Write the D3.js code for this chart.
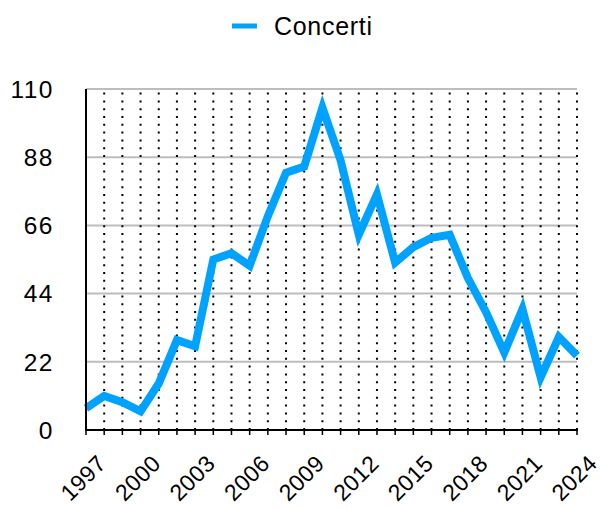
<!DOCTYPE html>
<html>
<head>
<meta charset="utf-8">
<script src="https://cdn.jsdelivr.net/npm/d3@7"></script>
<style>
  html, body { margin: 0; padding: 0; background: #fff; }
  svg { display: block; font-family: "Liberation Sans", Arial, Helvetica, sans-serif; }
</style>
</head>
<body>
<script>
// Number of concerts per year
const years = [1997, 1998, 1999, 2000, 2001, 2002, 2003, 2004, 2005, 2006, 2007, 2008, 2009, 2010,
               2011, 2012, 2013, 2014, 2015, 2016, 2017, 2018, 2019, 2020, 2021, 2022, 2023, 2024];
const concerti = [7, 11, 9, 6, 15, 29, 27, 55, 57, 53, 69, 83, 85, 104,
                  87, 63, 76, 54, 59, 62, 63, 49, 38, 25, 39, 17, 30, 24];
const yTicks = [0, 22, 44, 66, 88, 110];
const xTickLabels = [1997, 2000, 2003, 2006, 2009, 2012, 2015, 2018, 2021, 2024];
const seriesName = "Concerti";

const W = 604, H = 508;
const margin = { left: 86, right: 27, top: 89, bottom: 78 };
const color = "#00a2ff";

const svg = d3.select("body").append("svg").attr("width", W).attr("height", H);

const x = d3.scaleLinear()
  .domain([d3.min(years), d3.max(years)])
  .range([margin.left, W - margin.right]);
const y = d3.scaleLinear()
  .domain([0, 110])
  .range([H - margin.bottom, margin.top]);

// horizontal grid
svg.append("g")
  .selectAll("line")
  .data(yTicks.filter(d => d > 0))
  .join("line")
  .attr("x1", x.range()[0]).attr("x2", x.range()[1])
  .attr("y1", d => y(d)).attr("y2", d => y(d))
  .attr("stroke", "#bdbdbd").attr("stroke-width", 2);

// dotted vertical grid, one per year
svg.append("g")
  .selectAll("line")
  .data(years.slice(1))
  .join("line")
  .attr("x1", d => x(d)).attr("x2", d => x(d))
  .attr("y1", y(0)).attr("y2", y(110))
  .attr("stroke", "#000").attr("stroke-width", 2)
  .attr("stroke-dasharray", "2 5.8");

// y axis labels
svg.append("g")
  .selectAll("text")
  .data(yTicks)
  .join("text")
  .attr("x", 54)
  .attr("y", d => y(d))
  .attr("dy", "0.36em")
  .attr("text-anchor", "end")
  .attr("font-size", 24.5)
  .attr("letter-spacing", 1.5)
  .attr("fill", "#000")
  .text(d => d);

// x axis tick marks
svg.append("g")
  .selectAll("line")
  .data(years)
  .join("line")
  .attr("x1", d => x(d)).attr("x2", d => x(d))
  .attr("y1", y(0)).attr("y2", y(0) + 5)
  .attr("stroke", "#000").attr("stroke-width", 1.5);

// x axis labels, rotated
svg.append("g")
  .selectAll("text")
  .data(xTickLabels)
  .join("text")
  .attr("transform", d => `translate(${x(d) + 21.5},${y(0) + 35}) rotate(-45)`)
  .attr("text-anchor", "end")
  .attr("font-size", 23)
  .attr("letter-spacing", 0.4)
  .attr("fill", "#000")
  .text(d => d);

// series line
const line = d3.line()
  .x((d, i) => x(years[i]))
  .y(d => y(d));

svg.append("path")
  .datum(concerti)
  .attr("d", line)
  .attr("fill", "none")
  .attr("stroke", color)
  .attr("stroke-width", 8)
  .attr("stroke-linejoin", "miter")
  .attr("stroke-miterlimit", 10);

// axes lines
svg.append("line")
  .attr("x1", x.range()[0]).attr("x2", x.range()[0])
  .attr("y1", y(110)).attr("y2", y(0) + 1)
  .attr("stroke", "#000").attr("stroke-width", 2);
svg.append("line")
  .attr("x1", x.range()[0] - 1).attr("x2", x.range()[1] + 1)
  .attr("y1", y(0)).attr("y2", y(0))
  .attr("stroke", "#000").attr("stroke-width", 2);

// legend
const legend = svg.append("g");
legend.append("line")
  .attr("x1", 232).attr("x2", 257)
  .attr("y1", 26).attr("y2", 26)
  .attr("stroke", color).attr("stroke-width", 5);
legend.append("text")
  .attr("x", 274).attr("y", 26)
  .attr("dy", "0.36em")
  .attr("font-size", 25)
  .attr("letter-spacing", 0.7)
  .attr("fill", "#000")
  .text(seriesName);
</script>
</body>
</html>
